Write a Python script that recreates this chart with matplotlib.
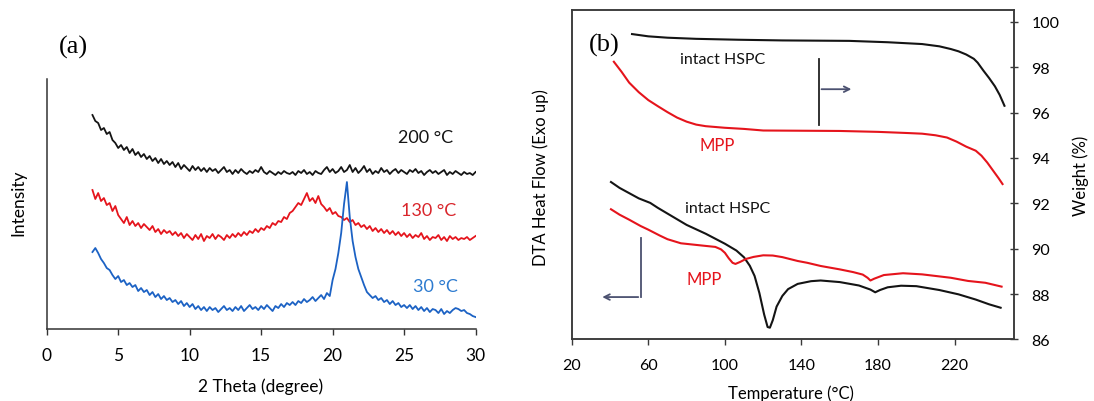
import matplotlib
matplotlib.use('Agg')
import matplotlib.pyplot as plt
import numpy as np

plt.rcParams['font.family'] = ['Lato', 'DejaVu Sans']

# ---- (a) XRD patterns, intensity in arbitrary units ----
two_theta = np.round(np.arange(3.2, 30.01, 0.2), 1)

xrd_200 = [214, 208, 206, 199, 201, 195, 197, 189, 186, 181,
           184, 179, 182, 176, 180, 174, 177, 172, 175, 170,
           173, 168, 171, 166, 170, 165, 168, 164, 167, 162,
           166, 160, 164, 161, 158, 163, 159, 162, 158, 161,
           157, 161, 158, 160, 156, 159, 162, 157, 159, 155,
           159, 156, 160, 157, 155, 158, 156, 159, 157, 162,
           157, 155, 158, 156, 154, 157, 155, 158, 156, 155,
           157, 154, 158, 156, 159, 155, 157, 154, 158, 156,
           155, 159, 162, 157, 160, 156, 158, 162, 157, 159,
           164, 157, 161, 156, 159, 163, 157, 160, 155, 158,
           156, 161, 157, 159, 155, 158, 160, 156, 159, 157,
           155, 159, 157, 160, 156, 158, 154, 157, 159, 156,
           158, 155, 157, 159, 154, 157, 155, 158, 156, 154,
           157, 155, 156, 154, 157]

xrd_130 = [139, 130, 136, 128, 131, 124, 126, 118, 123, 114,
           110, 106, 112, 104, 108, 103, 106, 101, 105, 102,
           99, 103, 97, 100, 95, 99, 96, 98, 94, 97,
           93, 96, 91, 95, 92, 89, 94, 90, 95, 88,
           93, 91, 95, 90, 94, 92, 89, 94, 91, 95,
           92, 96, 93, 97, 94, 98, 96, 100, 97, 101,
           99, 103, 101, 106, 104, 108, 107, 112, 110, 116,
           118, 122, 126, 124, 130, 136, 128, 131, 126, 133,
           125, 122, 118, 121, 115, 117, 113, 112, 109, 111,
           107, 109, 104, 106, 102, 104, 100, 103, 98, 101,
           97, 100, 96, 99, 95, 98, 94, 97, 93, 96,
           92, 95, 91, 94, 92, 96, 90, 93, 89, 92,
           91, 94, 89, 92, 88, 93, 90, 92, 89, 91,
           90, 92, 89, 91, 93]

xrd_30 = [77, 81, 76, 70, 66, 61, 59, 54, 50, 53,
          47, 49, 44, 46, 42, 44, 38, 41, 37, 39,
          34, 37, 32, 35, 30, 33, 29, 31, 27, 29,
          25, 28, 23, 26, 22, 25, 20, 23, 19, 22,
          18, 22, 19, 21, 17, 20, 23, 19, 21, 18,
          22, 19, 23, 18, 21, 24, 20, 22, 19, 23,
          20, 24, 21, 18, 23, 21, 25, 22, 26, 24,
          27, 24, 28, 26, 30, 27, 29, 32, 28, 31,
          34, 30, 36, 33, 49, 60, 76, 96, 125, 147,
          112, 88, 72, 60, 52, 44, 37, 34, 31, 33,
          29, 31, 27, 29, 25, 28, 24, 26, 22, 24,
          21, 24, 20, 23, 19, 22, 18, 21, 17, 20,
          19, 16, 20, 15, 18, 16, 19, 21, 20, 18,
          19, 16, 15, 13, 12]

# ---- (b) TGA (weight %) and DTA curves ----
tga_hspc_t = [51.5, 60, 70, 85, 107, 130, 165, 185, 203, 212, 218, 222, 226,
              230, 232, 235, 238, 241, 243.5, 246]
tga_hspc_w = [99.46, 99.36, 99.30, 99.25, 99.21, 99.18, 99.16, 99.10, 99.02,
              98.92, 98.80, 98.70, 98.56, 98.37, 98.20, 97.85, 97.52, 97.16,
              96.78, 96.30]

tga_mpp_t = [42, 46, 50, 55, 60, 65, 70, 75, 80, 85, 90, 100, 110, 120, 140,
             160, 180, 195, 203, 210, 216, 221, 226, 231, 234, 237, 240, 243, 245]
tga_mpp_w = [98.24, 97.80, 97.32, 96.90, 96.55, 96.28, 96.02, 95.78, 95.60,
             95.47, 95.40, 95.33, 95.28, 95.21, 95.20, 95.19, 95.15, 95.10,
             95.07, 95.00, 94.90, 94.72, 94.50, 94.32, 94.10, 93.80, 93.45,
             93.10, 92.85]

dta_hspc_t = [40.5, 45, 50, 55, 61, 65, 73, 80, 90, 100, 106, 110, 113, 115.5,
              118, 120.5, 122.3, 123.5, 125, 127, 130, 133, 138, 145, 150, 160,
              170, 176, 178.5, 181, 185, 192, 200, 212, 222, 231, 238, 244]
dta_hspc_q = [92.94, 92.68, 92.45, 92.22, 92.02, 91.80, 91.40, 91.05, 90.66,
              90.22, 89.92, 89.62, 89.25, 88.80, 88.05, 87.10, 86.55, 86.52,
              86.85, 87.45, 87.92, 88.22, 88.45, 88.57, 88.60, 88.53, 88.38,
              88.20, 88.08, 88.18, 88.30, 88.37, 88.35, 88.18, 87.99, 87.76,
              87.55, 87.40]

dta_mpp_t = [40.5, 45, 50, 56, 60, 66, 70, 77, 87, 95, 98, 100, 102, 104, 105.5,
             108, 111, 115, 120, 125, 130, 138, 143, 150, 160, 167, 172, 174.5,
             176, 178, 183, 193, 203, 218, 227, 236, 244.5]
dta_mpp_q = [91.74, 91.50, 91.28, 91.00, 90.84, 90.58, 90.42, 90.24, 90.15,
             90.08, 89.97, 89.82, 89.58, 89.38, 89.33, 89.42, 89.55, 89.64,
             89.71, 89.70, 89.63, 89.46, 89.38, 89.24, 89.09, 88.97, 88.86,
             88.72, 88.60, 88.68, 88.84, 88.92, 88.87, 88.72, 88.58, 88.50,
             88.33]

temp_ticks = [20, 60, 100, 140, 180, 220]
weight_ticks = [86, 88, 90, 92, 94, 96, 98, 100]

BLACK = '#141414'
RED = '#e5141c'
BLUE = '#1c62c4'
ARROW = '#4b5170'

fig = plt.figure(figsize=(10.94, 4.02), dpi=100)

# ================= panel (a) =================
ax = fig.add_axes([0.0427, 0.179, 0.392, 0.622])
ax.plot(two_theta, xrd_200, color=BLACK, lw=1.3)
ax.plot(two_theta, xrd_130, color=RED, lw=1.3)
ax.plot(two_theta, xrd_30, color=BLUE, lw=1.3)
ax.set_xlim(0, 30)
ax.set_ylim(0, 250)
ax.set_xticks([0, 5, 10, 15, 20, 25, 30])
ax.set_yticks([])
for s in ['top', 'right']:
    ax.spines[s].set_visible(False)
for s in ['left', 'bottom']:
    ax.spines[s].set_color('#333333')
    ax.spines[s].set_linewidth(1.1)
ax.tick_params(axis='x', direction='out', length=4, width=1, color='#333333',
               pad=9, labelsize=12.5)
ax.set_xlabel('2 Theta (degree)', fontsize=12.5)
ax.xaxis.set_label_coords(0.4995, -0.192)
ax.set_ylabel('Intensity', fontsize=12.5)
ax.yaxis.set_label_coords(-0.0466, 0.51)

ax.text(26.5, 191.7, '200 °C', color=BLACK, fontsize=13, ha='center', va='center')
ax.text(26.7, 119.3, '130 °C', color='#d9252b', fontsize=13, ha='center', va='center')
ax.text(27.2, 43.3, '30 °C', color='#2d7bd0', fontsize=13, ha='center', va='center')
fig.text(0.0674, 0.883, '(a)', family='Liberation Serif', fontsize=19,
         ha='center', va='center')

# ================= panel (b) =================
bx = fig.add_axes([0.5226, 0.153, 0.4043, 0.8196])
wx = bx.twinx()
for a in (bx, wx):
    a.set_xlim(20, 251)
    a.set_ylim(86, 100.52)
    for s in a.spines.values():
        s.set_color('#3a3a3a')
        s.set_linewidth(1.1)

bx.plot(dta_hspc_t, dta_hspc_q, color=BLACK, lw=1.5)
bx.plot(dta_mpp_t, dta_mpp_q, color=RED, lw=1.5)
wx.plot(tga_hspc_t, tga_hspc_w, color=BLACK, lw=1.5)
wx.plot(tga_mpp_t, tga_mpp_w, color=RED, lw=1.5)

bx.set_yticks([])
bx.set_xticks(temp_ticks)
bx.tick_params(axis='x', direction='out', length=4, width=1, color='#3a3a3a',
               pad=9.5, labelsize=11.5)
wx.set_yticks(weight_ticks)
wx.tick_params(axis='y', direction='inout', length=6, width=1, color='#3a3a3a',
               pad=9.5, labelsize=11.5)

bx.set_xlabel('Temperature (°C)', fontsize=12)
bx.xaxis.set_label_coords(0.495, -0.135)
bx.set_ylabel('DTA Heat Flow (Exo up)', fontsize=12)
bx.yaxis.set_label_coords(-0.052, 0.495)
wx.set_ylabel('Weight (%)', fontsize=12)
wx.yaxis.set_label_coords(1.133, 0.499)

bx.text(36.9, 99.02, '(b)', family='Liberation Serif', fontsize=19,
        ha='center', va='center')
bx.text(98.7, 98.35, 'intact HSPC', color=BLACK, fontsize=11.5, ha='center', va='center')
bx.text(96.2, 94.57, 'MPP', color=RED, fontsize=12, ha='center', va='center')
bx.text(101.4, 91.78, 'intact HSPC', color=BLACK, fontsize=11.5, ha='center', va='center')
bx.text(89.1, 88.65, 'MPP', color=RED, fontsize=12, ha='center', va='center')

# axis pointer arrows
bx.plot([149, 149], [95.44, 98.38], color='#222222', lw=1.3)
bx.annotate('', xy=(167.5, 97.03), xytext=(149, 97.03),
            arrowprops=dict(arrowstyle='->', color=ARROW, lw=1.3))
bx.plot([56.2, 56.2], [87.87, 90.49], color=ARROW, lw=1.3)
bx.annotate('', xy=(34.5, 87.87), xytext=(56.2, 87.87),
            arrowprops=dict(arrowstyle='->', color=ARROW, lw=1.3))

fig.savefig('out.png', dpi=100)
